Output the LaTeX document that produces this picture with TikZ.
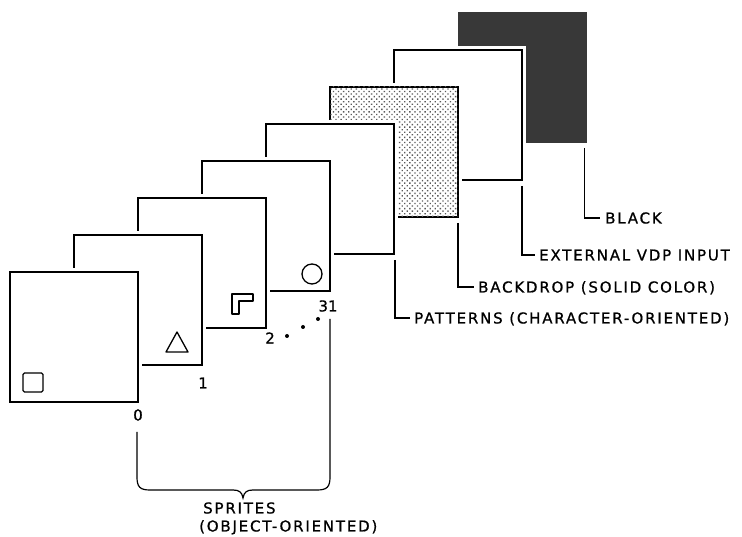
\documentclass[tikz,border=0pt]{standalone}
\usepackage{fontspec}
\newfontfamily\lblfont[LetterSpace=12,FakeBold=0.8]{DejaVu Sans}
\newfontfamily\numfont[FakeBold=0.8]{DejaVu Sans}
\usetikzlibrary{patterns,patterns.meta,calc}
\begin{document}
\begin{tikzpicture}[x=1pt,y=1pt,
  plane/.style={draw=black, line width=1.6pt, fill=white, minimum width=128pt,
    minimum height=130pt, inner sep=0pt, outer sep=0pt,
    preaction={draw=white, line width=8pt}},
  blackplane/.style={draw=black!78, fill=black!78, line width=1pt, minimum width=128pt,
    minimum height=130pt, inner sep=0pt, outer sep=0pt},
  dotplane/.style={plane, postaction={pattern={Dots[distance=3.6pt, radius=0.95pt, angle=45]}, pattern color=black!65}},
  leader/.style={line width=1.2pt},
  lbl/.style={font=\lblfont\fontsize{15}{17}\selectfont, inner sep=0pt, text height=11pt,
    text depth=0pt, anchor=west},
  num/.style={font=\numfont\fontsize{15}{17}\selectfont, inner sep=0pt},
  sprite/.style={line width=1.3pt, line join=round},
  sdot/.style={fill=black, circle, inner sep=0pt, minimum size=4pt}]
\useasboundingbox (0,0) rectangle (742,537);
% planes, back to front
\node[blackplane] (p7) at (522,459) {};
\node[plane] (p6) at (458,422) {};
\node[dotplane] (p5) at (394,385) {};
\node[plane] (p4) at (330,348) {};
\node[plane] (p3) at (266,311) {};
\node[plane] (p2) at (202,274) {};
\node[plane] (p1) at (138,237) {};
\node[plane] (p0) at (74,200) {};
% sprite shapes
\draw[sprite, rounded corners=1.5pt] (23,145) rectangle (43,164);
\draw[sprite] (177,205) -- (166,185) -- (188,185) -- cycle;
\draw[sprite] (232,223) -- (232,243) -- (253,243) -- (253,236) -- (239,236) -- (239,223) -- cycle;
\draw[sprite] (312,263) circle (10);
% sprite numbers
\node[num] (n0) at (138,122) {0};
\node[num] (n1) at (203,154) {1};
\node[num] (n2) at (270,199) {2};
\node[num] (n31) at (328,231) {31};
\node[sdot] (d1) at (287,201) {};
\node[sdot] (d2) at (303,210) {};
\node[sdot] (d3) at (318,218) {};
% labels
\node[lbl] (lblack) at (605,319) {BLACK};
\node[lbl] (lext) at (539,282) {EXTERNAL VDP INPUT};
\node[lbl] (lback) at (478,250) {BACKDROP (SOLID COLOR)};
\node[lbl] (lpat) at (414,219) {PATTERNS (CHARACTER-ORIENTED)};
\draw[leader] ([xshift=-1.5pt,yshift=-5pt]p7.south east) |- ([xshift=-5pt]lblack.west);
\draw[leader] ([yshift=-6pt]p6.south east) |- ([xshift=-4pt]lext.west);
\draw[leader] ([yshift=-6pt]p5.south east) |- ([xshift=-4pt]lback.west);
\draw[leader] ([xshift=1pt,yshift=-6pt]p4.south east) |- ([xshift=-4pt]lpat.west);
% brace
\coordinate (bl) at (137,105);
\coordinate (br) at (330,218);
\coordinate (tip) at (243,39);
\draw[leader] (bl) -- (137,60) .. controls (137,50) and (140,47) .. (150,47)
  -- (233,47) .. controls (239,47) and (242,45) .. (tip)
  .. controls (244,45) and (247,47) .. (253,47) -- (317,47)
  .. controls (327,47) and (330,50) .. (330,60) -- (br);
\node[lbl] (ls1) at (203,29) {SPRITES};
\node[lbl] (ls2) at (199,11) {(OBJECT-ORIENTED)};
\end{tikzpicture}
\end{document}
